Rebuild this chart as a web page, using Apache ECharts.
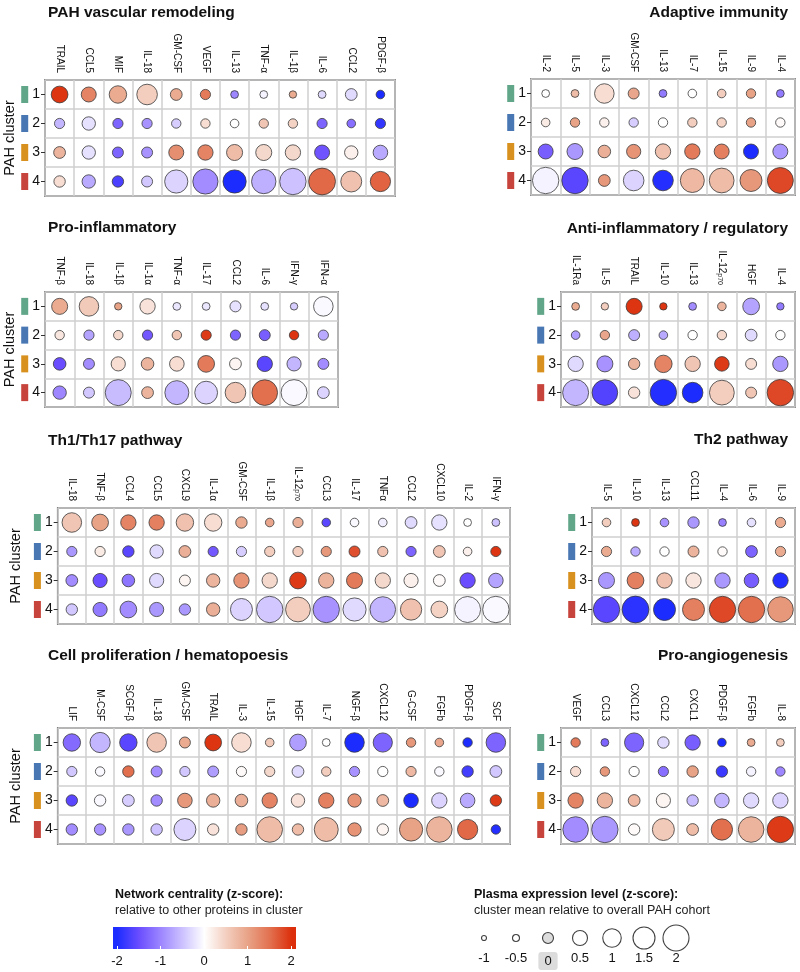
<!DOCTYPE html>
<html>
<head>
<meta charset="utf-8">
<script src="https://cdn.jsdelivr.net/npm/echarts@6/dist/echarts.min.js"></script>
<style>
  html, body { margin: 0; padding: 0; background: #fff; }
  #main { width: 800px; height: 972px; }
</style>
</head>
<body>
<div id="main"></div>
<script>
// row categories (PAH clusters)
const clusters = ['1', '2', '3', '4'];
const clusterColors = ['#62a68a', '#4877b4', '#d8911f', '#c6443b'];

// expression = plasma expression z-score (circle size), centrality = network centrality z-score (colour)
const vascCols = ['TRAIL', 'CCL5', 'MIF', 'IL-18', 'GM-CSF', 'VEGF', 'IL-13', 'TNF-α', 'IL-1β', 'IL-6', 'CCL2', 'PDGF-β'];
const vascExpr = [
  [0.75, 0.5, 0.85, 1.3, 0.1, -0.1, -0.4, -0.4, -0.45, -0.4, 0.1, -0.3],
  [-0.1, 0.3, -0.1, -0.1, -0.2, -0.2, -0.3, -0.2, -0.2, -0.1, -0.3, -0.1],
  [0.1, 0.3, 0, 0, 0.5, 0.55, 0.65, 0.65, 0.55, 0.5, 0.3, 0.45],
  [0.05, 0.3, 0.05, 0, 1.65, 1.9, 1.65, 1.8, 2.05, 2.1, 1.35, 1.25]
];
const vascCent = [
  [1.95, 1.3, 0.9, 0.5, 0.9, 1.4, -1.0, -0.1, 0.9, -0.3, -0.3, -2],
  [-0.6, -0.25, -1.3, -0.9, -0.4, 0.35, 0, 0.6, 0.45, -1.3, -1.2, -1.85],
  [0.8, -0.25, -1.3, -0.9, 1.2, 1.3, 0.7, 0.4, 0.4, -1.45, 0.15, -0.7],
  [0.35, -0.7, -1.7, -0.45, -0.35, -0.95, -2, -0.65, -0.5, 1.55, 0.65, 1.6]
];

const adaptCols = ['IL-2', 'IL-5', 'IL-3', 'GM-CSF', 'IL-13', 'IL-7', 'IL-15', 'IL-9', 'IL-4'];
const adaptExpr = [
  [-0.4, -0.4, 1.15, 0, -0.4, -0.3, -0.3, -0.2, -0.4],
  [-0.3, -0.2, -0.2, -0.2, -0.2, -0.2, -0.2, -0.2, -0.2],
  [0.5, 0.65, 0.2, 0.4, 0.55, 0.55, 0.5, 0.5, 0.5],
  [2.05, 2.05, 0.1, 1.3, 1.3, 1.75, 1.85, 1.5, 2.0]
];
const adaptCent = [
  [0, 0.7, 0.35, 0.95, -1.1, 0, 0.5, 1.0, -1.1],
  [0.2, 1.0, 0.15, -0.4, 0, 0.5, 0.45, 1.0, 0.05],
  [-1.35, -0.85, 0.85, 1.15, 0.65, 1.4, 1.35, -2, -0.85],
  [-0.1, -1.6, 1.1, -0.35, -1.95, 0.75, 0.7, 1.1, 1.8]
];

const inflamCols = ['TNF-β', 'IL-18', 'IL-1β', 'IL-1α', 'TNF-α', 'IL-17', 'CCL2', 'IL-6', 'IFN-γ', 'IFN-α'];
const inflamExpr = [
  [0.65, 1.15, -0.45, 0.55, -0.4, -0.4, 0, -0.4, -0.45, 1.15],
  [-0.2, -0.1, -0.2, -0.1, -0.2, -0.1, -0.1, 0, -0.2, -0.1],
  [0.2, 0, 0.4, 0.2, 0.45, 0.75, 0.1, 0.55, 0.4, 0],
  [0.3, 0, 2.0, 0.1, 1.75, 1.6, 1.3, 1.95, 2.0, 0.1]
];
const inflamCent = [
  [0.9, 0.55, 1.0, 0.3, -0.2, -0.2, -0.25, -0.25, -0.4, -0.05],
  [0.25, -0.75, 0.4, -1.4, 0.6, 1.9, -1.3, -1.35, 1.95, -0.7],
  [-1.5, -0.95, 0.35, 0.8, 0.35, 1.4, 0.1, -1.6, -0.6, -0.95],
  [-1.0, -0.45, -0.55, 0.8, -0.6, -0.35, 0.6, 1.5, -0.05, -0.35]
];

const regCols = ['IL-1Ra', 'IL-5', 'TRAIL', 'IL-10', 'IL-13', 'IL-12p70', 'HGF', 'IL-4'];
const regExpr = [
  [-0.4, -0.45, 0.65, -0.45, -0.4, -0.3, 0.75, -0.45],
  [-0.3, -0.2, 0, -0.3, -0.2, -0.2, 0.1, -0.2],
  [0.55, 0.65, 0.05, 0.85, 0.55, 0.45, 0, 0.55],
  [2.0, 1.95, 0.05, 2.05, 1.3, 1.85, 0, 2.05]
];
const regCent = [
  [0.9, 0.5, 1.95, 1.95, -0.95, 0.8, -0.75, -1.1],
  [-0.8, 0.95, -0.65, -0.7, 0, 0.4, -0.3, 0],
  [-0.3, -0.9, 0.8, 1.3, 0.6, 1.9, 0.35, -0.85],
  [-0.6, -1.65, 0.3, -1.95, -2, 0.5, 0.6, 1.8]
];

const th1Cols = ['IL-18', 'TNF-β', 'CCL4', 'CCL5', 'CXCL9', 'IL-1α', 'GM-CSF', 'IL-1β', 'IL-12p70', 'CCL3', 'IL-17', 'TNFα', 'CCL2', 'CXCL10', 'IL-2', 'IFN-γ'];
const th1Expr = [
  [1.15, 0.75, 0.55, 0.55, 0.85, 0.85, 0.05, -0.3, -0.1, -0.3, -0.3, -0.3, 0.1, 0.55, -0.4, -0.4],
  [-0.1, -0.1, 0.05, 0.3, 0.1, -0.1, -0.1, -0.1, -0.1, -0.1, 0, -0.1, -0.1, 0.1, -0.3, -0.1],
  [0.1, 0.4, 0.2, 0.4, 0, 0.3, 0.55, 0.55, 0.75, 0.55, 0.65, 0.55, 0.4, 0.1, 0.55, 0.45],
  [0.05, 0.4, 0.75, 0.4, 0.05, 0.3, 1.5, 2.05, 1.85, 2.05, 1.65, 1.95, 1.4, 0.75, 2.0, 2.05]
];
const th1Cent = [
  [0.6, 1.0, 1.3, 1.35, 0.65, 0.35, 0.9, 0.95, 0.85, -1.6, -0.05, -0.15, -0.3, -0.25, 0, -0.5],
  [-0.85, 0.2, -1.6, -0.3, 0.85, -1.4, -0.4, 0.5, 0.5, 1.1, 1.75, 0.65, -1.3, 0.6, 0.15, 1.95],
  [-0.95, -1.5, -1.15, -0.3, 0.1, 0.8, 1.15, 0.4, 1.9, 0.8, 1.4, 0.4, 0.15, 0.05, -1.5, -0.75],
  [-0.45, -1.1, -0.95, -0.85, -0.85, 0.85, -0.35, -0.45, 0.5, -0.9, -0.3, -0.6, 0.65, 0.45, -0.1, -0.05]
];

const th2Cols = ['IL-5', 'IL-10', 'IL-13', 'CCL11', 'IL-4', 'IL-6', 'IL-9'];
const th2Expr = [
  [-0.3, -0.4, -0.3, 0.05, -0.4, -0.3, -0.1],
  [-0.1, -0.2, -0.2, 0, -0.2, 0.1, -0.1],
  [0.65, 0.75, 0.55, 0.55, 0.55, 0.45, 0.55],
  [2.05, 2.1, 1.5, 1.5, 2.05, 2.05, 1.95]
];
const th2Cent = [
  [0.5, 1.95, -0.9, -0.85, -1.05, -0.25, 0.9],
  [0.9, -0.7, 0, 0.8, 0.05, -1.3, 0.9],
  [-0.85, 1.35, 0.65, 0.25, -0.85, -1.35, -1.95],
  [-1.6, -1.9, -2, 1.35, 1.8, 1.5, 1.1]
];

const prolifCols = ['LIF', 'M-CSF', 'SCGF-β', 'IL-18', 'GM-CSF', 'TRAIL', 'IL-3', 'IL-15', 'HGF', 'IL-7', 'NGF-β', 'CXCL12', 'G-CSF', 'FGFb', 'PDGF-β', 'SCF'];
const prolifExpr = [
  [0.85, 1.25, 0.85, 1.15, 0, 0.75, 1.15, -0.3, 0.75, -0.4, 1.15, 1.1, -0.2, -0.3, -0.2, 1.15],
  [-0.1, -0.2, 0.05, 0, -0.1, 0, -0.1, -0.1, 0.1, -0.2, -0.1, -0.1, -0.1, -0.2, 0.05, 0.1],
  [0.05, 0.05, 0.1, 0.05, 0.45, 0.3, 0.2, 0.55, 0.3, 0.55, 0.3, 0.1, 0.45, 0.55, 0.45, 0.05],
  [0.05, 0.05, 0.05, 0.05, 1.5, 0.05, 0.05, 1.95, 0.05, 1.75, 0.3, 0.05, 1.65, 1.95, 1.25, -0.2]
];
const prolifCent = [
  [-1.25, -0.6, -1.6, 0.6, 0.9, 1.95, 0.35, 0.55, -0.8, 0, -2, -1.3, 1.1, 0.95, -2, -1.3],
  [-0.45, -0.05, 1.5, -0.95, -0.45, -0.8, 0.05, 0.4, -0.3, 0.5, -0.9, 0, 0.75, -0.05, -1.75, -0.45],
  [-1.6, -0.05, -0.4, -0.95, 1.1, 0.85, 0.85, 1.3, 0.3, 1.35, 1.15, 0.75, -2, -0.35, -0.7, 1.9],
  [-0.95, -0.9, -0.85, -0.5, -0.35, 0.3, 1.05, 0.7, 0.7, 0.7, 1.15, 0.1, 1.0, 0.8, 1.55, -1.95]
];

const angioCols = ['VEGF', 'CCL3', 'CXCL12', 'CCL2', 'CXCL1', 'PDGF-β', 'FGFb', 'IL-8'];
const angioExpr = [
  [-0.2, -0.4, 1.1, 0.05, 0.55, -0.3, -0.4, -0.4],
  [-0.1, -0.2, -0.1, -0.1, 0.05, 0.05, -0.2, -0.2],
  [0.55, 0.55, 0.1, 0.4, 0.05, 0.45, 0.55, 0.55],
  [1.95, 2.05, 0.05, 1.5, 0.1, 1.4, 1.95, 2.05]
];
const angioCent = [
  [1.4, -1.3, -1.3, -0.3, -1.35, -2, 0.9, 0.5],
  [0.35, 1.1, 0, -1.2, 1.0, -1.8, -0.1, -1.0],
  [1.3, 0.8, 0.75, 0.1, -0.55, -0.6, -0.3, -0.35],
  [-0.95, -0.85, 0.05, 0.55, 0.7, 1.5, 0.8, 1.9]
];

// legends
const sizeLegendValues = [-1, -0.5, 0, 0.5, 1, 1.5, 2];
const centralityTicks = [-2, -1, 0, 1, 2];

const scaleColors = ['#1c2cff', '#6a4dff', '#9d86ff', '#cdc2ff', '#ffffff', '#f3cebf', '#e8a286', '#e2704f', '#dc2e0a'];
// expression z-score -> circle diameter
const sizeStops = [[-1, 5], [-0.5, 7], [0, 11], [0.5, 15], [1, 18.5], [1.5, 22], [2, 26]];
function sizeOf(z) {
  let i = 0;
  while (i < sizeStops.length - 2 && z > sizeStops[i + 1][0]) i++;
  const [z0, d0] = sizeStops[i], [z1, d1] = sizeStops[i + 1];
  return Math.max(4, d0 + (z - z0) * (d1 - d0) / (z1 - z0));
}

const panels = [
  { title: 'PAH vascular remodeling', cols: vascCols, expr: vascExpr, cent: vascCent, left: 45, top: 80, width: 350, height: 116, titleTop: 5, side: 'left' },
  { title: 'Adaptive immunity', cols: adaptCols, expr: adaptExpr, cent: adaptCent, left: 531, top: 79, width: 264, height: 116, titleTop: 5, side: 'right' },
  { title: 'Pro-inflammatory', cols: inflamCols, expr: inflamExpr, cent: inflamCent, left: 45, top: 292, width: 293, height: 115, titleTop: 220, side: 'left' },
  { title: 'Anti-inflammatory / regulatory', cols: regCols, expr: regExpr, cent: regCent, left: 561, top: 292, width: 234, height: 115, titleTop: 221, side: 'right' },
  { title: 'Th1/Th17 pathway', cols: th1Cols, expr: th1Expr, cent: th1Cent, left: 45, top: 508, width: 465, height: 116, titleTop: 433, side: 'left' },
  { title: 'Th2 pathway', cols: th2Cols, expr: th2Expr, cent: th2Cent, left: 592, top: 508, width: 203, height: 116, titleTop: 432, side: 'right' },
  { title: 'Cell proliferation / hematopoesis', cols: prolifCols, expr: prolifExpr, cent: prolifCent, left: 45, top: 728, width: 465, height: 116, titleTop: 648, side: 'left' },
  { title: 'Pro-angiogenesis', cols: angioCols, expr: angioExpr, cent: angioCent, left: 561, top: 728, width: 234, height: 116, titleTop: 648, side: 'right' }
];

const FONT = '"Liberation Sans", Arial, Helvetica, sans-serif';
const grids = [], xAxes = [], yAxes = [], series = [], titles = [];

const rowRich = { n: { fontSize: 14, color: '#111', padding: [0, 0, 0, 4] } };
clusterColors.forEach((c, i) => { rowRich['b' + i] = { backgroundColor: c, width: 7, height: 17 }; });

panels.forEach((p, k) => {
  grids.push({ left: p.left, top: p.top, width: p.width, height: p.height, show: true,
    borderColor: '#3a3a3a', borderWidth: 1.5 });
  titles.push(p.side === 'left'
    ? { text: p.title, left: 48, top: p.titleTop, padding: 0, textStyle: { fontSize: 15.5, fontWeight: 'bold', color: '#111', fontFamily: FONT } }
    : { text: p.title, right: 12, top: p.titleTop, padding: 0, textStyle: { fontSize: 15.5, fontWeight: 'bold', color: '#111', fontFamily: FONT } });
  xAxes.push({
    type: 'category', gridIndex: k, position: 'top', data: p.cols,
    axisLine: { show: false }, axisTick: { show: false },
    axisLabel: {
      rotate: 90, interval: 0, margin: 7, fontSize: 10, color: '#111', fontFamily: FONT,
      formatter: v => v === 'IL-12p70' ? 'IL-12{sub|p70}' : v,
      rich: { sub: { fontSize: 7, verticalAlign: 'bottom', color: '#111', fontFamily: FONT } }
    },
    splitLine: { show: true, lineStyle: { color: '#cfcfcf', width: 1.5 } }
  });
  yAxes.push({
    type: 'category', gridIndex: k, inverse: true, data: clusters,
    name: p.side === 'left' ? 'PAH cluster' : '', nameLocation: 'middle', nameGap: 22,
    nameTextStyle: { fontSize: 14.5, color: '#111', fontFamily: FONT },
    axisLine: { show: false },
    axisTick: { show: true, alignWithLabel: true, length: 4, lineStyle: { color: '#333' } },
    axisLabel: { margin: 5, fontFamily: FONT, formatter: (v, i) => `{b${i}|}{n|${v}}`, rich: rowRich },
    splitLine: { show: true, lineStyle: { color: '#cfcfcf', width: 1.5 } }
  });
  const data = [];
  p.cols.forEach((c, ci) => {
    clusters.forEach((r, ri) => data.push([ci, ri, p.expr[ri][ci], p.cent[ri][ci]]));
  });
  series.push({
    type: 'scatter', xAxisIndex: k, yAxisIndex: k, data: data, z: 5,
    symbol: 'circle', symbolSize: v => sizeOf(v[2]),
    itemStyle: { borderColor: '#3a3a3a', borderWidth: 0.8, opacity: 1 },
    emphasis: { disabled: true }
  });
});

// colour-scale legend axis (grid 8)
grids.push({ left: 117, top: 927, width: 174, height: 22 });
xAxes.push({
  type: 'value', gridIndex: 8, min: -2, max: 2, interval: 1,
  axisLine: { show: false },
  axisTick: { show: true, inside: true, length: 3, lineStyle: { color: '#fff', width: 1 } },
  axisLabel: { margin: 6, fontSize: 13, color: '#111', fontFamily: FONT, formatter: v => centralityTicks.includes(v) ? String(v) : '' },
  splitLine: { show: false }
});
yAxes.push({ type: 'value', gridIndex: 8, min: 0, max: 1, show: false });

// size legend (grid 9)
grids.push({ left: 468, top: 925, width: 224, height: 26 });
xAxes.push({
  type: 'category', gridIndex: 9, data: sizeLegendValues.map(String),
  axisLine: { show: false }, axisTick: { show: false }, splitLine: { show: false },
  axisLabel: {
    interval: 0, margin: 1, fontSize: 13, color: '#111', fontFamily: FONT,
    formatter: v => v === '0' ? '{g|0}' : v,
    rich: { g: { backgroundColor: '#dcdcdc', borderRadius: 3, padding: [3, 6, 2, 6], fontSize: 13, color: '#111', fontFamily: FONT } }
  }
});
yAxes.push({ type: 'category', gridIndex: 9, data: ['s'], show: false });
series.push({
  type: 'scatter', xAxisIndex: 9, yAxisIndex: 9, symbol: 'circle',
  data: sizeLegendValues.map((z, i) => ({ value: [i, 0, z], itemStyle: { color: z === 0 ? '#d3d3d3' : '#fff' } })),
  symbolSize: v => sizeOf(v[2]),
  itemStyle: { borderColor: '#111', borderWidth: 1.1 },
  emphasis: { disabled: true }
});

titles.push({ text: 'Network centrality (z-score):', subtext: 'relative to other proteins in cluster', left: 115, top: 888, padding: 0, itemGap: 3,
  textStyle: { fontSize: 12.5, fontWeight: 'bold', color: '#111', fontFamily: FONT },
  subtextStyle: { fontSize: 12.5, color: '#222', fontFamily: FONT } });
titles.push({ text: 'Plasma expression level (z-score):', subtext: 'cluster mean relative to overall PAH cohort', left: 474, top: 888, padding: 0, itemGap: 3,
  textStyle: { fontSize: 12.5, fontWeight: 'bold', color: '#111', fontFamily: FONT },
  subtextStyle: { fontSize: 12.5, color: '#222', fontFamily: FONT } });

const chart = echarts.init(document.getElementById('main'), null, { renderer: 'canvas' });
chart.setOption({
  animation: false,
  backgroundColor: '#fff',
  textStyle: { fontFamily: FONT },
  title: titles,
  grid: grids,
  xAxis: xAxes,
  yAxis: yAxes,
  visualMap: [{
    type: 'continuous', show: false, min: -2, max: 2, dimension: 3,
    seriesIndex: [0, 1, 2, 3, 4, 5, 6, 7],
    inRange: { color: scaleColors }
  }],
  graphic: [{
    type: 'rect', left: 113, top: 927, z: 0,
    shape: { width: 183, height: 22 },
    style: { fill: new echarts.graphic.LinearGradient(0, 0, 1, 0,
      scaleColors.map((c, i) => ({ offset: 0.022 + 0.956 * i / (scaleColors.length - 1), color: c }))) }
  }],
  series: series
});
</script>
</body>
</html>
